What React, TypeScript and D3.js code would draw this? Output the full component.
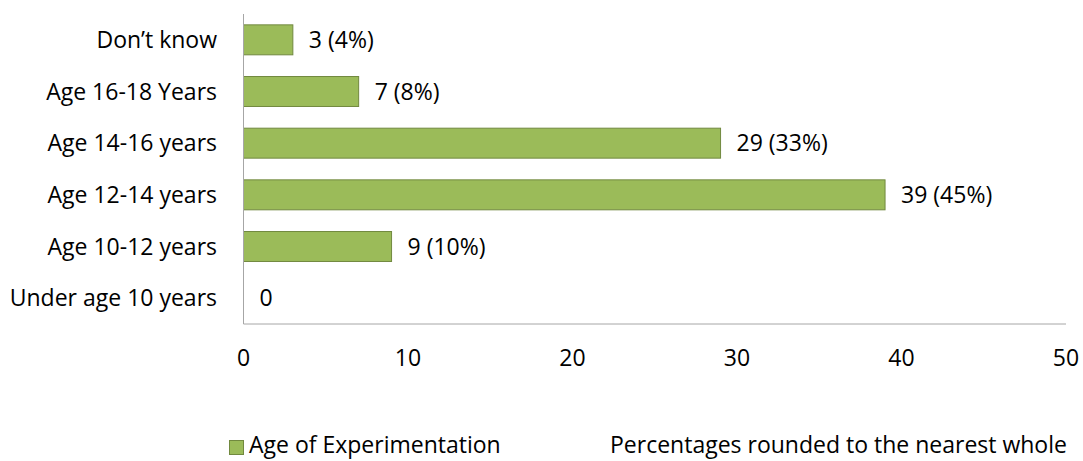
import React from "react";
import * as d3 from "d3";

const categories = [
  "Don\u2019t know",
  "Age 16-18 Years",
  "Age 14-16 years",
  "Age 12-14 years",
  "Age 10-12 years",
  "Under age 10 years",
];
const counts = [3, 7, 29, 39, 9, 0];
const percents = [4, 8, 33, 45, 10, null];
const xTicks = [0, 10, 20, 30, 40, 50];
const seriesName = "Age of Experimentation";
const note = "Percentages rounded to the nearest whole";

const W = 1083;
const H = 461;
const FONT = "'Open Sans', 'Noto Sans', sans-serif";

export default function App() {
  const x = d3.scaleLinear().domain([0, 50]).range([243.5, 1066]);
  const y = d3
    .scaleBand<string>()
    .domain(categories)
    .range([14, 324])
    .paddingInner(0.42)
    .paddingOuter(0.21);
  const fill = "#9BBB59";
  const stroke = "#71893F";
  const axisColor = "#A6A6A6";
  const fs = 23;

  return (
    <svg
      width={W}
      height={H}
      style={{ position: "absolute", left: 0, top: 0, background: "#fff" }}
      fontFamily={FONT}
    >
      {categories.map((c, i) => {
        const v = counts[i];
        const y0 = y(c)!;
        const bh = y.bandwidth();
        const p = percents[i];
        const label = p == null ? `${v}` : `${v} (${p}%)`;
        return (
          <g key={c}>
            {v > 0 && (
              <rect
                x={x(0)}
                y={y0}
                width={x(v) - x(0)}
                height={bh}
                fill={fill}
                stroke={stroke}
                strokeWidth={1}
              />
            )}
            <text
              x={217}
              y={y0 + bh / 2}
              dy="0.35em"
              textAnchor="end"
              fontSize={fs}
              fill="#000"
            >
              {c}
            </text>
            <text
              x={x(v) + 16}
              y={y0 + bh / 2}
              dy="0.35em"
              fontSize={fs}
              fill="#000"
            >
              {label}
            </text>
          </g>
        );
      })}
      <line x1={x(0)} x2={x(0)} y1={14} y2={324} stroke={axisColor} strokeWidth={1} />
      <line x1={x(0)} x2={x(50)} y1={324} y2={324} stroke={axisColor} strokeWidth={1} />
      {xTicks.map((t) => (
        <text
          key={t}
          x={x(t)}
          y={358}
          dy="0.35em"
          textAnchor="middle"
          fontSize={fs}
          fill="#000"
        >
          {t}
        </text>
      ))}
      <rect x={229.5} y={440.5} width={14} height={14} fill={fill} stroke={stroke} strokeWidth={1} />
      <text x={249} y={453} fontSize={fs} fill="#000">
        {seriesName}
      </text>
      <text x={610} y={453} fontSize={fs} fill="#000">
        {note}
      </text>
    </svg>
  );
}
